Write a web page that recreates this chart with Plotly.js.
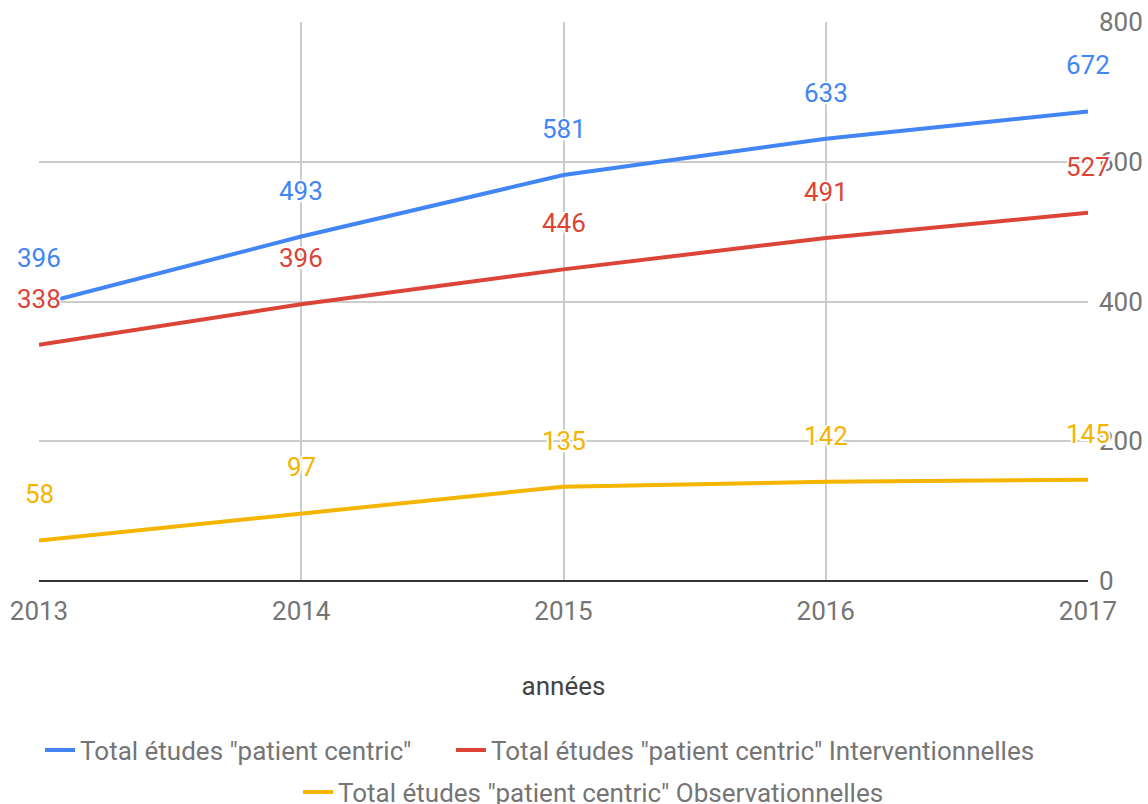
<!DOCTYPE html>
<html><head><meta charset="utf-8">
<script src="https://cdn.plot.ly/plotly-3.0.1.min.js"></script>
<style>html,body{margin:0;padding:0;background:#fff}#chart{width:1148px;height:804px}</style>
</head><body><div id="chart"></div>
<script>
const years = [2013, 2014, 2015, 2016, 2017];
const seriesNames = [
  'Total études "patient centric"',
  'Total études "patient centric" Interventionnelles',
  'Total études "patient centric" Observationnelles'
];
const totalValues = [396, 493, 581, 633, 672];
const interventionalValues = [338, 396, 446, 491, 527];
const observationalValues = [58, 97, 135, 142, 145];
const yTicks = [0, 200, 400, 600, 800];

const colors = ['#4285F4', '#DB4437', '#F4B400'];
const legendIds = ['legend', 'legend2', 'legend3'];
const allValues = [totalValues, interventionalValues, observationalValues];
const FS = 26;
const halo = '1.5px 0 1px #fff, -1.5px 0 1px #fff, 0 1.5px 1px #fff, 0 -1.5px 1px #fff, 1.5px 1.5px 1px #fff, -1.5px -1.5px 1px #fff, 1.5px -1.5px 1px #fff, -1.5px 1.5px 1px #fff';

const traces = allValues.map((vals, i) => ({
  type: 'scatter', mode: 'lines', x: years, y: vals, name: seriesNames[i],
  legend: legendIds[i],
  line: {color: colors[i], width: 4}, hoverinfo: 'x+y'
}));

const annotations = [];
allValues.forEach((vals, i) => {
  vals.forEach((v, j) => {
    annotations.push({
      x: years[j], y: v, xref: 'x', yref: 'y', text: String(v), showarrow: false,
      yshift: 46, yanchor: 'middle', xanchor: 'center',
      font: {family: 'Roboto', size: FS, color: colors[i], shadow: halo}
    });
  });
});

const legendFont = {family: 'Roboto', size: FS, color: '#757575'};
const legendBase = {orientation: 'h', xanchor: 'left', yanchor: 'middle', font: legendFont, itemwidth: 30};

const layout = {
  width: 1148, height: 804,
  margin: {l: 39, r: 60, t: 22, b: 223, autoexpand: false},
  paper_bgcolor: '#fff', plot_bgcolor: '#fff',
  font: {family: 'Roboto', size: FS, color: '#757575'},
  showlegend: true,
  xaxis: {
    range: [2013, 2017], tickvals: years, ticktext: years.map(String),
    showgrid: true, gridcolor: '#cccccc', gridwidth: 2,
    zeroline: false, showline: false, ticks: '', ticklabelstandoff: 12,
    tickfont: {family: 'Roboto', size: FS, color: '#757575'},
    title: {text: 'années', font: {family: 'Roboto', size: FS, color: '#444'}, standoff: 51},
    fixedrange: true
  },
  yaxis: {
    side: 'right', range: [0, 800], tickvals: yTicks,
    showgrid: true, gridcolor: '#cccccc', gridwidth: 2,
    zeroline: true, zerolinecolor: '#333', zerolinewidth: 2,
    showline: false, ticks: '', ticklabelstandoff: 10,
    tickfont: {family: 'Roboto', size: FS, color: '#757575'},
    fixedrange: true
  },
  legend: Object.assign({}, legendBase, {x: 0.0010, y: -0.3023}),
  legend2: Object.assign({}, legendBase, {x: 0.3927, y: -0.3023}),
  legend3: Object.assign({}, legendBase, {x: 0.2469, y: -0.3775}),
  annotations: annotations
};

Plotly.newPlot('chart', traces, layout, {displayModeBar: false, staticPlot: true});
</script></body></html>
